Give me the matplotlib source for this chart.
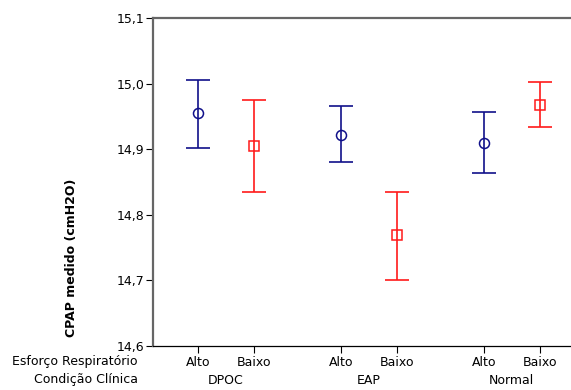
import matplotlib
matplotlib.use("Agg")
import matplotlib.pyplot as plt

# CPAP medido por condição clínica e esforço respiratório (média e IC)
condicoes = ["DPOC", "EAP", "Normal"]
esforco = ["Alto", "Baixo"]
media = [14.955, 14.905, 14.922, 14.769, 14.910, 14.968]
sup = [15.005, 14.975, 14.966, 14.835, 14.957, 15.003]
inf = [14.902, 14.835, 14.880, 14.701, 14.863, 14.934]
yticks = [14.6, 14.7, 14.8, 14.9, 15.0, 15.1]

azul = "#10108a"
vermelho = "#ff1a1a"

fig = plt.figure(figsize=(5.71, 3.9), dpi=100)
ax = fig.add_axes([153 / 571, 1 - 346 / 390, (570 - 153) / 571, (346 - 18) / 390])

gap = 2.55
pos = []
for g in range(len(condicoes)):
    for k in range(len(esforco)):
        pos.append(g * gap + k)

for i, p in enumerate(pos):
    cor = azul if i % 2 == 0 else vermelho
    mk = "o" if i % 2 == 0 else "s"
    err = [[media[i] - inf[i]], [sup[i] - media[i]]]
    ax.errorbar([p], [media[i]], yerr=err, fmt="none", ecolor=cor,
                elinewidth=1.2, capsize=8.5, capthick=1.2)
    ax.plot([p], [media[i]], marker=mk, markersize=7.2 if mk == "o" else 6.8,
            markerfacecolor="none", markeredgecolor=cor, markeredgewidth=1.1,
            linestyle="none")

ax.set_xlim(-0.80, 6.64)
ax.set_ylim(14.6, 15.1)
ax.set_yticks(yticks)
ax.set_yticklabels([f"{v:.1f}".replace(".", ",") for v in yticks], fontsize=9)
ax.set_xticks(pos)
ax.set_xticklabels([esforco[i % 2] for i in range(len(pos))], fontsize=9)
ax.tick_params(axis="both", direction="out", length=5, width=0.8, colors="black", pad=1)
ax.tick_params(axis="x", pad=2)

ax.spines["right"].set_visible(False)
ax.spines["left"].set_color("#666666")
ax.spines["left"].set_linewidth(1.6)
ax.spines["top"].set_color("#666666")
ax.spines["top"].set_linewidth(1.6)
ax.spines["bottom"].set_color("black")
ax.spines["bottom"].set_linewidth(0.9)

# rótulos das linhas inferiores
for g, c in enumerate(condicoes):
    xc = g * gap + 0.5
    xf = (ax.transData.transform((xc, 0))[0]) / fig.bbox.width
    fig.text(xf, 1 - 380 / 390, c, ha="center", va="center", fontsize=9)
fig.text(138 / 571, 1 - 362 / 390, "Esforço Respiratório", ha="right", va="center", fontsize=9)
fig.text(138 / 571, 1 - 380 / 390, "Condição Clínica", ha="right", va="center", fontsize=9)

fig.text(72 / 571, 1 - 258 / 390, "CPAP medido (cmH2O)", rotation=90,
         ha="center", va="center", fontsize=9, fontweight="bold")

fig.savefig("out.png", dpi=100)
